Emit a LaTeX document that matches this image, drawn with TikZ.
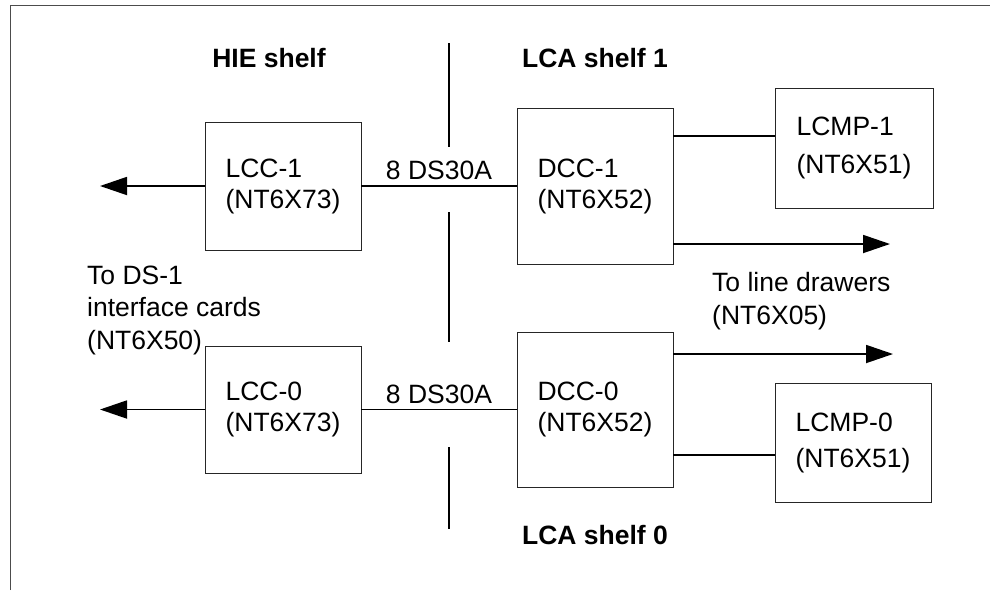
\documentclass[tikz,border=0pt]{standalone}
\usepackage{fontspec}
\setmainfont{Liberation Sans}
\usetikzlibrary{arrows.meta,positioning}

\begin{document}
\begin{tikzpicture}[x=1pt, y=-1pt, >={Triangle[length=27pt,width=18pt]},
    card/.style={draw=black!85, line width=0.9pt, align=left, inner sep=0pt,
      font=\fontsize{26.5}{31}\selectfont},
    link/.style={line width=1.8pt},
    shelf/.style={font=\fontsize{26.5}{30}\selectfont\bfseries},
    note/.style={align=left, inner sep=0pt, font=\fontsize{26.5}{32.5}\selectfont}]
  \useasboundingbox (0,0) rectangle (990,590);
  \draw[black!70, line width=0.9pt] (10,590) -- (10,5) -- (990,5);

  % shelf titles and the divider
  \node[shelf] (hie)  at (269,58)  {HIE shelf};
  \node[shelf] (lca1) at (595,58)  {LCA shelf 1};
  \node[shelf] (lca0) at (595,535) {LCA shelf 0};
  \draw[line width=1.8pt] (449,43) -- (449,147);
  \draw[line width=1.8pt] (449,212) -- (449,342);
  \draw[line width=1.8pt] (449,447) -- (449,529);

  % cards
  \node[card, minimum width=156, minimum height=128] (lcc1) at (283,186) {LCC-1\\(NT6X73)};
  \node[card, minimum width=156, minimum height=127] (lcc0) at (283,409.5) {LCC-0\\(NT6X73)};
  \node[card, minimum width=156, minimum height=156] (dcc1) at (595,186) {DCC-1\\(NT6X52)};
  \node[card, minimum width=156, minimum height=155] (dcc0) at (595,409.5) {DCC-0\\(NT6X52)};
  \node[card, minimum width=158, minimum height=120,
    font=\fontsize{26.5}{38}\selectfont] (lcmp1) at (854,148) {LCMP-1\\(NT6X51)};
  \node[card, minimum width=156, minimum height=119,
    font=\fontsize{26.5}{36}\selectfont] (lcmp0) at (853,442.5) {LCMP-0\\(NT6X51)};

  % free ends of the arrows
  \coordinate (ds1a) at (100,186);
  \coordinate (ds1b) at (100,409.5);
  \coordinate (drw1) at (890,244);
  \coordinate (drw0) at (893,354);

  \draw[link, ->] (lcc1.west) -- (ds1a);
  \draw[link, ->] (lcc0.west) -- (ds1b);
  \draw[link] (lcc1.east) -- node[above=5pt, inner sep=0pt, font=\fontsize{26.5}{30}\selectfont] {8 DS30A} (dcc1.west);
  \draw[link] (lcc0.east) -- node[above=5pt, inner sep=0pt, font=\fontsize{26.5}{30}\selectfont] {8 DS30A} (dcc0.west);
  \draw[link] ([yshift=50pt]dcc1.east) -- ([yshift=12pt]lcmp1.west);
  \draw[link] ([yshift=-45.5pt]dcc0.east) -- ([yshift=-12.5pt]lcmp0.west);
  \draw[link, ->] ([yshift=-58pt]dcc1.east) -- (drw1);
  \draw[link, ->] ([yshift=55.5pt]dcc0.east) -- (drw0);

  \node[note, anchor=west] (ds1)  at (87,310)  {To DS-1\\interface cards\\(NT6X50)};
  \node[note, anchor=west] (drw)  at (712,301) {To line drawers\\(NT6X05)};
\end{tikzpicture}
\end{document}
